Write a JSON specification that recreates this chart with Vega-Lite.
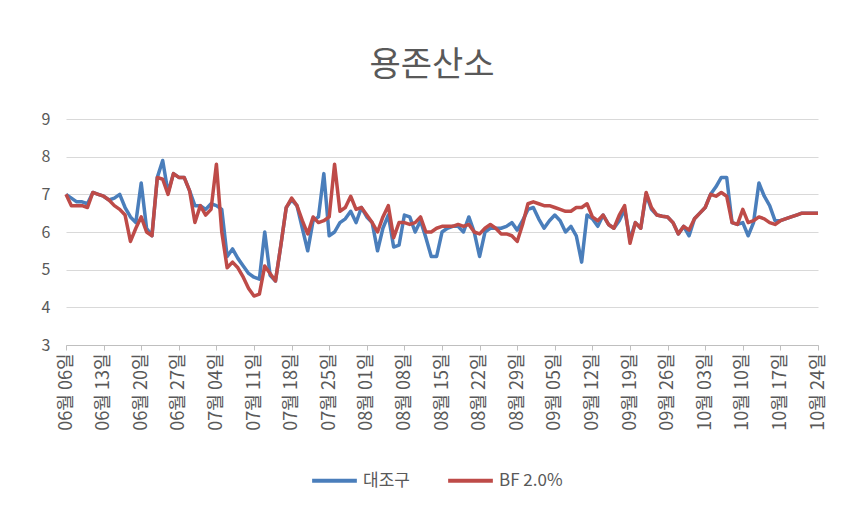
{
  "$schema": "https://vega.github.io/schema/vega-lite/v6.json",
  "autosize": {"type": "none"},
  "width": 752,
  "height": 226,
  "padding": {"left": 66, "top": 119, "right": 43, "bottom": 177},
  "background": "white",
  "title": {"text": "용존산소", "anchor": "middle", "offset": 28, "dx": -10, "fontSize": 34, "font": "Noto Sans CJK KR", "fontWeight": "normal", "color": "#595959"},
  "config": {
    "view": {"stroke": null},
    "font": "Noto Sans CJK KR",
    "axis": {"labelColor": "#595959", "labelFont": "Noto Sans CJK KR"},
    "legend": {"labelColor": "#595959", "labelFont": "Noto Sans CJK KR"}
  },
  "data": {"values": [
    {"t":"2015-06-06","ctrl":7.0,"bf":7.0},
    {"t":"2015-06-07","ctrl":6.9,"bf":6.7},
    {"t":"2015-06-08","ctrl":6.8,"bf":6.7},
    {"t":"2015-06-09","ctrl":6.8,"bf":6.7},
    {"t":"2015-06-10","ctrl":6.75,"bf":6.65},
    {"t":"2015-06-11","ctrl":7.05,"bf":7.05},
    {"t":"2015-06-12","ctrl":7.0,"bf":7.0},
    {"t":"2015-06-13","ctrl":6.95,"bf":6.95},
    {"t":"2015-06-14","ctrl":6.85,"bf":6.85},
    {"t":"2015-06-15","ctrl":6.9,"bf":6.7},
    {"t":"2015-06-16","ctrl":7.0,"bf":6.6},
    {"t":"2015-06-17","ctrl":6.65,"bf":6.45},
    {"t":"2015-06-18","ctrl":6.4,"bf":5.75},
    {"t":"2015-06-19","ctrl":6.25,"bf":6.1},
    {"t":"2015-06-20","ctrl":7.3,"bf":6.4},
    {"t":"2015-06-21","ctrl":6.1,"bf":6.0},
    {"t":"2015-06-22","ctrl":5.9,"bf":5.9},
    {"t":"2015-06-23","ctrl":7.45,"bf":7.45},
    {"t":"2015-06-24","ctrl":7.9,"bf":7.4},
    {"t":"2015-06-25","ctrl":7.05,"bf":7.0},
    {"t":"2015-06-26","ctrl":7.55,"bf":7.55},
    {"t":"2015-06-27","ctrl":7.45,"bf":7.45},
    {"t":"2015-06-28","ctrl":7.45,"bf":7.45},
    {"t":"2015-06-29","ctrl":7.1,"bf":7.1},
    {"t":"2015-06-30","ctrl":6.7,"bf":6.25},
    {"t":"2015-07-01","ctrl":6.7,"bf":6.7},
    {"t":"2015-07-02","ctrl":6.6,"bf":6.45},
    {"t":"2015-07-03","ctrl":6.75,"bf":6.6},
    {"t":"2015-07-04","ctrl":6.7,"bf":7.8},
    {"t":"2015-07-05","ctrl":6.6,"bf":6.0},
    {"t":"2015-07-06","ctrl":5.35,"bf":5.05},
    {"t":"2015-07-07","ctrl":5.55,"bf":5.2},
    {"t":"2015-07-08","ctrl":5.3,"bf":5.05},
    {"t":"2015-07-09","ctrl":5.1,"bf":4.8},
    {"t":"2015-07-10","ctrl":4.9,"bf":4.5},
    {"t":"2015-07-11","ctrl":4.8,"bf":4.3},
    {"t":"2015-07-12","ctrl":4.75,"bf":4.35},
    {"t":"2015-07-13","ctrl":6.0,"bf":5.1},
    {"t":"2015-07-14","ctrl":4.85,"bf":4.9},
    {"t":"2015-07-15","ctrl":4.7,"bf":4.7},
    {"t":"2015-07-16","ctrl":5.65,"bf":5.65},
    {"t":"2015-07-17","ctrl":6.65,"bf":6.65},
    {"t":"2015-07-18","ctrl":6.85,"bf":6.9},
    {"t":"2015-07-19","ctrl":6.7,"bf":6.7},
    {"t":"2015-07-20","ctrl":6.1,"bf":6.3},
    {"t":"2015-07-21","ctrl":5.5,"bf":5.95},
    {"t":"2015-07-22","ctrl":6.3,"bf":6.4},
    {"t":"2015-07-23","ctrl":6.4,"bf":6.25},
    {"t":"2015-07-24","ctrl":7.55,"bf":6.3},
    {"t":"2015-07-25","ctrl":5.9,"bf":6.4},
    {"t":"2015-07-26","ctrl":6.0,"bf":7.8},
    {"t":"2015-07-27","ctrl":6.25,"bf":6.55},
    {"t":"2015-07-28","ctrl":6.35,"bf":6.65},
    {"t":"2015-07-29","ctrl":6.55,"bf":6.95},
    {"t":"2015-07-30","ctrl":6.25,"bf":6.6},
    {"t":"2015-07-31","ctrl":6.65,"bf":6.65},
    {"t":"2015-08-01","ctrl":6.4,"bf":6.45},
    {"t":"2015-08-02","ctrl":6.25,"bf":6.25},
    {"t":"2015-08-03","ctrl":5.5,"bf":6.0},
    {"t":"2015-08-04","ctrl":6.1,"bf":6.4},
    {"t":"2015-08-05","ctrl":6.45,"bf":6.7},
    {"t":"2015-08-06","ctrl":5.6,"bf":5.85},
    {"t":"2015-08-07","ctrl":5.65,"bf":6.25},
    {"t":"2015-08-08","ctrl":6.45,"bf":6.25},
    {"t":"2015-08-09","ctrl":6.4,"bf":6.2},
    {"t":"2015-08-10","ctrl":6.0,"bf":6.25},
    {"t":"2015-08-11","ctrl":6.3,"bf":6.4},
    {"t":"2015-08-12","ctrl":5.85,"bf":6.0},
    {"t":"2015-08-13","ctrl":5.35,"bf":6.0},
    {"t":"2015-08-14","ctrl":5.35,"bf":6.1},
    {"t":"2015-08-15","ctrl":6.0,"bf":6.15},
    {"t":"2015-08-16","ctrl":6.1,"bf":6.15},
    {"t":"2015-08-17","ctrl":6.15,"bf":6.15},
    {"t":"2015-08-18","ctrl":6.15,"bf":6.2},
    {"t":"2015-08-19","ctrl":6.0,"bf":6.15},
    {"t":"2015-08-20","ctrl":6.4,"bf":6.2},
    {"t":"2015-08-21","ctrl":6.0,"bf":6.0},
    {"t":"2015-08-22","ctrl":5.35,"bf":5.95},
    {"t":"2015-08-23","ctrl":6.0,"bf":6.1},
    {"t":"2015-08-24","ctrl":6.1,"bf":6.2},
    {"t":"2015-08-25","ctrl":6.1,"bf":6.1},
    {"t":"2015-08-26","ctrl":6.1,"bf":5.95},
    {"t":"2015-08-27","ctrl":6.15,"bf":5.95},
    {"t":"2015-08-28","ctrl":6.25,"bf":5.9},
    {"t":"2015-08-29","ctrl":6.05,"bf":5.75},
    {"t":"2015-08-30","ctrl":6.3,"bf":6.2},
    {"t":"2015-08-31","ctrl":6.6,"bf":6.75},
    {"t":"2015-09-01","ctrl":6.65,"bf":6.8},
    {"t":"2015-09-02","ctrl":6.35,"bf":6.75},
    {"t":"2015-09-03","ctrl":6.1,"bf":6.7},
    {"t":"2015-09-04","ctrl":6.3,"bf":6.7},
    {"t":"2015-09-05","ctrl":6.45,"bf":6.65},
    {"t":"2015-09-06","ctrl":6.3,"bf":6.6},
    {"t":"2015-09-07","ctrl":6.0,"bf":6.55},
    {"t":"2015-09-08","ctrl":6.15,"bf":6.55},
    {"t":"2015-09-09","ctrl":5.9,"bf":6.65},
    {"t":"2015-09-10","ctrl":5.2,"bf":6.65},
    {"t":"2015-09-11","ctrl":6.45,"bf":6.75},
    {"t":"2015-09-12","ctrl":6.35,"bf":6.4},
    {"t":"2015-09-13","ctrl":6.15,"bf":6.3},
    {"t":"2015-09-14","ctrl":6.45,"bf":6.45},
    {"t":"2015-09-15","ctrl":6.2,"bf":6.2},
    {"t":"2015-09-16","ctrl":6.1,"bf":6.1},
    {"t":"2015-09-17","ctrl":6.3,"bf":6.45},
    {"t":"2015-09-18","ctrl":6.6,"bf":6.7},
    {"t":"2015-09-19","ctrl":5.8,"bf":5.7},
    {"t":"2015-09-20","ctrl":6.25,"bf":6.25},
    {"t":"2015-09-21","ctrl":6.1,"bf":6.1},
    {"t":"2015-09-22","ctrl":7.0,"bf":7.05},
    {"t":"2015-09-23","ctrl":6.6,"bf":6.65},
    {"t":"2015-09-24","ctrl":6.45,"bf":6.45},
    {"t":"2015-09-25","ctrl":6.42,"bf":6.42},
    {"t":"2015-09-26","ctrl":6.4,"bf":6.4},
    {"t":"2015-09-27","ctrl":6.25,"bf":6.25},
    {"t":"2015-09-28","ctrl":5.95,"bf":5.95},
    {"t":"2015-09-29","ctrl":6.15,"bf":6.15},
    {"t":"2015-09-30","ctrl":5.9,"bf":6.05},
    {"t":"2015-10-01","ctrl":6.35,"bf":6.35},
    {"t":"2015-10-02","ctrl":6.5,"bf":6.5},
    {"t":"2015-10-03","ctrl":6.65,"bf":6.65},
    {"t":"2015-10-04","ctrl":7.0,"bf":7.0},
    {"t":"2015-10-05","ctrl":7.2,"bf":6.95},
    {"t":"2015-10-06","ctrl":7.45,"bf":7.05},
    {"t":"2015-10-07","ctrl":7.45,"bf":6.95},
    {"t":"2015-10-08","ctrl":6.25,"bf":6.25},
    {"t":"2015-10-09","ctrl":6.2,"bf":6.2},
    {"t":"2015-10-10","ctrl":6.25,"bf":6.6},
    {"t":"2015-10-11","ctrl":5.9,"bf":6.25},
    {"t":"2015-10-12","ctrl":6.25,"bf":6.3},
    {"t":"2015-10-13","ctrl":7.3,"bf":6.4},
    {"t":"2015-10-14","ctrl":6.95,"bf":6.35},
    {"t":"2015-10-15","ctrl":6.7,"bf":6.25},
    {"t":"2015-10-16","ctrl":6.3,"bf":6.2},
    {"t":"2015-10-17","ctrl":6.3,"bf":6.3},
    {"t":"2015-10-19","ctrl":6.4,"bf":6.4},
    {"t":"2015-10-20","ctrl":6.45,"bf":6.45},
    {"t":"2015-10-21","ctrl":6.5,"bf":6.5},
    {"t":"2015-10-24","ctrl":6.5,"bf":6.5}
  ]},
  "transform": [{"fold": ["ctrl", "bf"], "as": ["series", "value"]}],
  "encoding": {
    "x": {
      "field": "t", "type": "temporal",
      "scale": {"type": "utc", "nice": false, "domain": [{"year": 2015, "month": 6, "date": 6, "utc": true}, {"year": 2015, "month": 10, "date": 24, "utc": true}]},
      "axis": {
        "title": null,
        "labelExpr": "utcFormat(datum.value, '%m월 %d일')",
        "values": [
          {"year":2015,"month":6,"date":6,"utc":true},
          {"year":2015,"month":6,"date":13,"utc":true},
          {"year":2015,"month":6,"date":20,"utc":true},
          {"year":2015,"month":6,"date":27,"utc":true},
          {"year":2015,"month":7,"date":4,"utc":true},
          {"year":2015,"month":7,"date":11,"utc":true},
          {"year":2015,"month":7,"date":18,"utc":true},
          {"year":2015,"month":7,"date":25,"utc":true},
          {"year":2015,"month":8,"date":1,"utc":true},
          {"year":2015,"month":8,"date":8,"utc":true},
          {"year":2015,"month":8,"date":15,"utc":true},
          {"year":2015,"month":8,"date":22,"utc":true},
          {"year":2015,"month":8,"date":29,"utc":true},
          {"year":2015,"month":9,"date":5,"utc":true},
          {"year":2015,"month":9,"date":12,"utc":true},
          {"year":2015,"month":9,"date":19,"utc":true},
          {"year":2015,"month":9,"date":26,"utc":true},
          {"year":2015,"month":10,"date":3,"utc":true},
          {"year":2015,"month":10,"date":10,"utc":true},
          {"year":2015,"month":10,"date":17,"utc":true},
          {"year":2015,"month":10,"date":24,"utc":true}
        ],
        "labelAngle": -90,
        "labelFontSize": 18,
        "labelPadding": 3,
        "tickSize": 5,
        "tickColor": "#bfbfbf",
        "domainColor": "#bfbfbf",
        "grid": false,
        "labelOverlap": false,
        "labelFlush": false
      }
    },
    "y": {
      "field": "value", "type": "quantitative",
      "scale": {"domain": [3, 9], "nice": false, "zero": false},
      "axis": {
        "title": null,
        "values": [3, 4, 5, 6, 7, 8, 9],
        "domain": false,
        "ticks": false,
        "labelFontSize": 16,
        "labelPadding": 16,
        "gridColor": "#d9d9d9",
        "gridWidth": 1
      }
    },
    "color": {
      "field": "series", "type": "nominal",
      "scale": {"domain": ["ctrl", "bf"], "range": ["#4a7ebb", "#be4b48"]},
      "legend": {
        "title": null,
        "orient": "none",
        "legendX": 244,
        "legendY": 337,
        "direction": "horizontal",
        "symbolType": "stroke",
        "symbolSize": 2000,
        "symbolStrokeWidth": 4,
        "labelFontSize": 17,
        "columnPadding": 30,
        "labelExpr": "datum.label == 'ctrl' ? '대조구' : 'BF 2.0%'"
      }
    }
  },
  "layer": [
    {"transform": [{"filter": "datum.series == 'ctrl'"}], "mark": {"type": "line", "strokeWidth": 3.5, "strokeJoin": "round"}},
    {"transform": [{"filter": "datum.series == 'bf'"}], "mark": {"type": "line", "strokeWidth": 3.5, "strokeJoin": "round"}}
  ]
}
